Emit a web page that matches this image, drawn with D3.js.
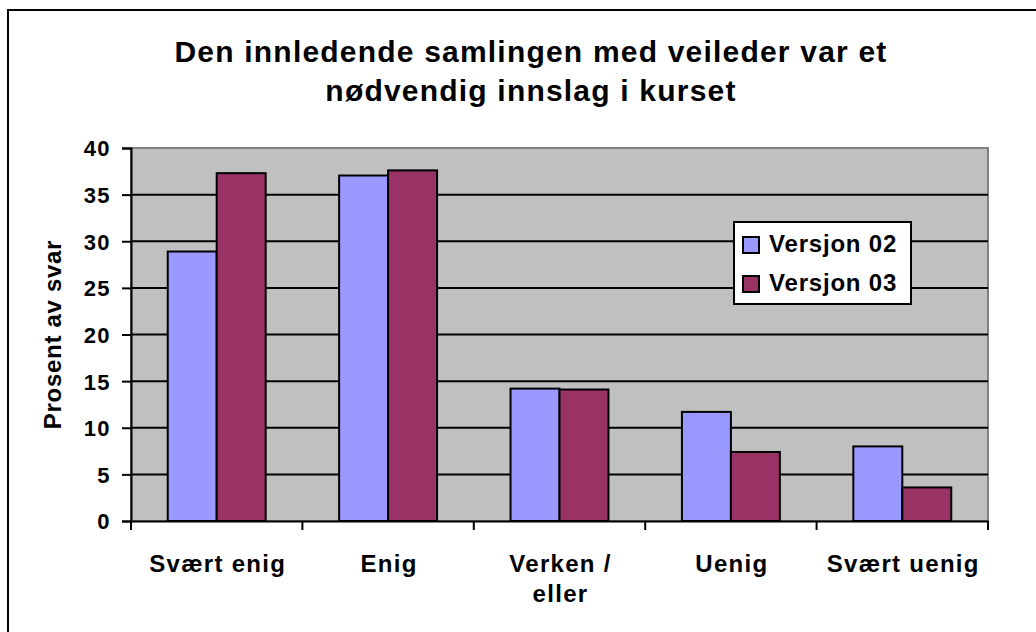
<!DOCTYPE html>
<html>
<head>
<meta charset="utf-8">
<script src="https://cdn.jsdelivr.net/npm/d3@7"></script>
<style>
  body { margin: 0; background: #fff; }
  text { font-family: "Liberation Sans", Arial, sans-serif; font-weight: bold; fill: #000; }
</style>
</head>
<body>
<div id="chart"></div>
<script>
var categories = [["Svært enig"], ["Enig"], ["Verken /", "eller"], ["Uenig"], ["Svært uenig"]];
var seriesNames = ["Versjon 02", "Versjon 03"];
var versjon02 = [28.9, 37.05, 14.2, 11.7, 8.0];
var versjon03 = [37.3, 37.6, 14.1, 7.4, 3.6];
var yTicks = [0, 5, 10, 15, 20, 25, 30, 35, 40];
var titleLines = ["Den innledende samlingen med veileder var et", "nødvendig innslag i kurset"];
var yLabel = "Prosent av svar";

var colors = ["#9999FF", "#993366"];
var width = 1036, height = 632;
var plot = {left: 131, top: 148, right: 988, bottom: 521};

var svg = d3.select("#chart").append("svg")
    .attr("width", width)
    .attr("height", height);

// outer frame, runs off the bottom/right like the original
svg.append("rect")
    .attr("x", 8).attr("y", 10)
    .attr("width", 1040).attr("height", 640)
    .attr("fill", "#fff").attr("stroke", "#000").attr("stroke-width", 2);

svg.append("g").selectAll("text")
    .data(titleLines)
    .enter()
        .append("text")
        .attr("x", 531)
        .attr("y", function(d, i){ return 62 + i * 39; })
        .attr("text-anchor", "middle")
        .style("font-size", "30px")
        .style("letter-spacing", "1.2px")
        .text(function(d){ return d; });

var x = d3.scaleBand()
    .domain(d3.range(categories.length))
    .range([plot.left, plot.right])
    .paddingInner(0)
    .paddingOuter(0);

var y = d3.scaleLinear()
    .domain([0, 40])
    .range([plot.bottom, plot.top]);

// plot area
svg.append("rect")
    .attr("x", plot.left).attr("y", plot.top)
    .attr("width", plot.right - plot.left).attr("height", plot.bottom - plot.top)
    .attr("fill", "#C0C0C0").attr("stroke", "#808080").attr("stroke-width", 2);

// gridlines
svg.append("g").selectAll("line")
    .data(yTicks.filter(function(d){ return d > 0 && d < 40; }))
    .enter()
        .append("line")
        .attr("x1", plot.left).attr("x2", plot.right)
        .attr("y1", function(d){ return y(d); })
        .attr("y2", function(d){ return y(d); })
        .attr("stroke", "#000").attr("stroke-width", 2);

// bars: gap width 150% -> bar = band / 3.5
var barW = x.bandwidth() / 3.5;
var rows = [];
categories.forEach(function(c, i){
    rows.push({cat: i, s: 0, v: versjon02[i]});
    rows.push({cat: i, s: 1, v: versjon03[i]});
});

svg.append("g").selectAll("rect")
    .data(rows)
    .enter()
        .append("rect")
        .attr("x", function(d){ return x(d.cat) + barW * 0.75 + d.s * barW; })
        .attr("y", function(d){ return y(d.v); })
        .attr("width", barW)
        .attr("height", function(d){ return y(0) - y(d.v); })
        .attr("fill", function(d){ return colors[d.s]; })
        .attr("stroke", "#000").attr("stroke-width", 2);

// y axis
var yAxis = svg.append("g")
    .attr("transform", "translate(" + plot.left + ",0)")
    .call(d3.axisLeft(y).tickValues(yTicks).tickSize(9).tickPadding(11));
yAxis.select(".domain").attr("stroke", "#000").attr("stroke-width", 2);
yAxis.selectAll(".tick line").attr("stroke", "#000").attr("stroke-width", 2);
yAxis.selectAll(".tick text")
    .style("font-size", "22px")
    .style("letter-spacing", "1.4px")
    .attr("font-family", null)
    .attr("dy", "0.36em");

// x axis
var xAxis = svg.append("g")
    .attr("transform", "translate(0," + plot.bottom + ")")
    .call(d3.axisBottom(x).tickSize(0).tickFormat(""));
xAxis.select(".domain").attr("stroke", "#000").attr("stroke-width", 2);
xAxis.selectAll(".tick").remove();

var edges = d3.range(categories.length + 1).map(function(i){
    return i < categories.length ? x(i) : x(i - 1) + x.bandwidth();
});
xAxis.selectAll("line.edge")
    .data(edges)
    .enter()
        .append("line")
        .attr("class", "edge")
        .attr("x1", function(d){ return d; }).attr("x2", function(d){ return d; })
        .attr("y1", 0).attr("y2", 9)
        .attr("stroke", "#000").attr("stroke-width", 2);

var catLabels = svg.append("g").selectAll("text")
    .data(categories)
    .enter()
        .append("text")
        .attr("text-anchor", "middle")
        .style("font-size", "24px")
        .style("letter-spacing", "1.3px")
        .attr("x", function(d, i){ return x(i) + x.bandwidth() / 2 + 1; })
        .attr("y", 572);
catLabels.selectAll("tspan")
    .data(function(d){ return d; })
    .enter()
        .append("tspan")
        .attr("x", function(){ return d3.select(this.parentNode).attr("x"); })
        .attr("dy", function(d, i){ return i === 0 ? 0 : 30; })
        .text(function(d){ return d; });

// y label
svg.append("text")
    .attr("transform", "translate(61," + ((plot.top + plot.bottom) / 2) + ") rotate(-90)")
    .attr("text-anchor", "middle")
    .style("font-size", "24px")
    .style("letter-spacing", "0.7px")
    .text(yLabel);

// legend
var legend = svg.append("g").attr("transform", "translate(734,222)");
legend.append("rect")
    .attr("width", 177).attr("height", 82)
    .attr("fill", "#fff").attr("stroke", "#000").attr("stroke-width", 2);
var items = legend.selectAll("g.item")
    .data(seriesNames)
    .enter()
        .append("g")
        .attr("class", "item")
        .attr("transform", function(d, i){ return "translate(9," + (15 + i * 39) + ")"; });
items.append("rect")
    .attr("width", 16).attr("height", 16)
    .attr("fill", function(d, i){ return colors[i]; })
    .attr("stroke", "#000").attr("stroke-width", 2);
items.append("text")
    .attr("x", 26).attr("y", 15)
    .style("font-size", "24px")
    .style("letter-spacing", "0.8px")
    .text(function(d){ return d; });
</script>
</body>
</html>
